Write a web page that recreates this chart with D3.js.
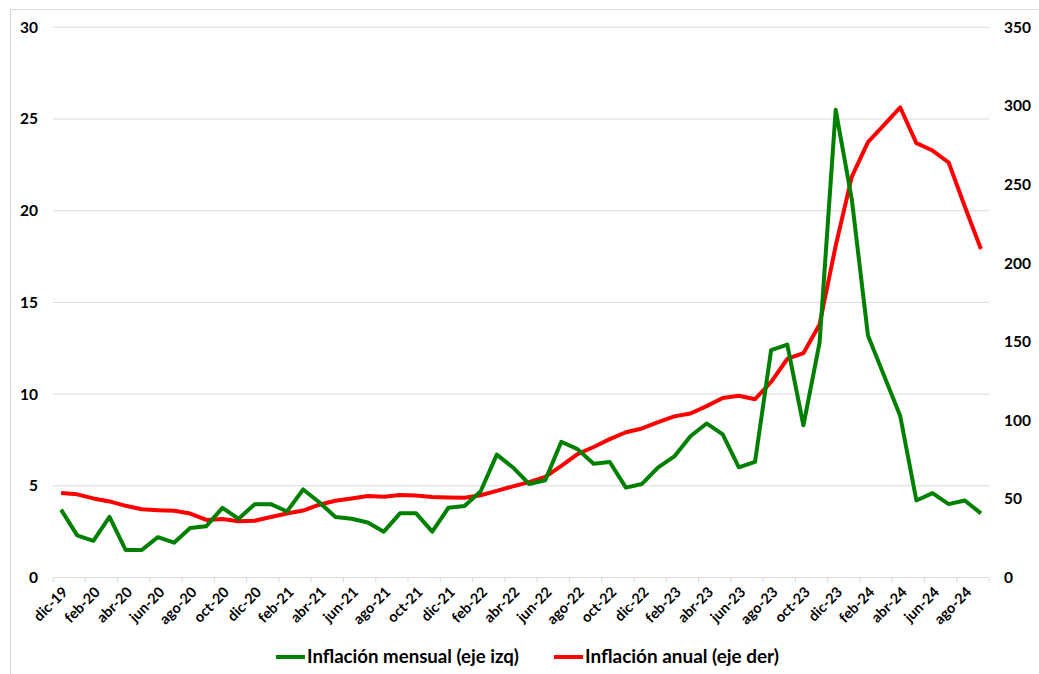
<!DOCTYPE html>
<html><head><meta charset="utf-8">
<script src="https://cdn.jsdelivr.net/npm/d3@7"></script>
<style>
body{margin:0;background:#fff;}
text{font-family:Lato,"Open Sans",sans-serif;font-weight:bold;fill:#000;}
</style></head>
<body><svg id="c" width="1039" height="674"></svg>
<script>
const months = ["dic-19","ene-20","feb-20","mar-20","abr-20","may-20","jun-20","jul-20","ago-20","sep-20","oct-20","nov-20",
"dic-20","ene-21","feb-21","mar-21","abr-21","may-21","jun-21","jul-21","ago-21","sep-21","oct-21","nov-21",
"dic-21","ene-22","feb-22","mar-22","abr-22","may-22","jun-22","jul-22","ago-22","sep-22","oct-22","nov-22",
"dic-22","ene-23","feb-23","mar-23","abr-23","may-23","jun-23","jul-23","ago-23","sep-23","oct-23","nov-23",
"dic-23","ene-24","feb-24","mar-24","abr-24","may-24","jun-24","jul-24","ago-24","sep-24"];
const mensual = [3.7,2.3,2.0,3.3,1.5,1.5,2.2,1.9,2.7,2.8,3.8,3.2,
4.0,4.0,3.6,4.8,4.1,3.3,3.2,3.0,2.5,3.5,3.5,2.5,
3.8,3.9,4.7,6.7,6.0,5.1,5.3,7.4,7.0,6.2,6.3,4.9,
5.1,6.0,6.6,7.7,8.4,7.8,6.0,6.3,12.4,12.7,8.3,12.8,
25.5,20.6,13.2,11.0,8.8,4.2,4.6,4.0,4.2,3.5];
const anual = [53.8,52.9,50.3,48.4,45.6,43.4,42.8,42.4,40.7,36.6,37.2,35.8,
36.1,38.5,40.7,42.6,46.3,48.8,50.2,51.8,51.4,52.5,52.1,51.2,
50.9,50.7,52.3,55.1,58.0,60.7,64.0,71.0,78.5,83.0,88.0,92.4,
94.8,98.8,102.5,104.3,109.0,114.2,115.6,113.4,124.4,139.0,142.7,161.0,
211.0,255.0,277.0,288.0,299.0,276.3,271.6,264.0,236.0,209.0];
const leftTicks = [0,5,10,15,20,25,30];
const rightTicks = [0,50,100,150,200,250,300,350];
const seriesNames = ["Inflación mensual (eje izq)","Inflación anual (eje der)"];

const svg = d3.select("#c");
const L = 53, R = 989, T = 27.3, B = 577.5;

svg.append("rect").attr("x",10.5).attr("y",9.5).attr("width",1040).attr("height",680)
  .attr("fill","none").attr("stroke","#d9d9d9");

const x = d3.scaleBand().domain(months).range([L,R]);
const yL = d3.scaleLinear().domain([0,30]).range([B,T]);
const yR = d3.scaleLinear().domain([0,350]).range([B,T]);

svg.append("g").selectAll("line").data(leftTicks.filter(d=>d>0)).join("line")
  .attr("x1",L).attr("x2",R).attr("y1",d=>yL(d)).attr("y2",d=>yL(d))
  .attr("stroke","#d9d9d9").attr("stroke-width",1);

svg.append("g").selectAll("text").data(leftTicks).join("text")
  .attr("x",38).attr("y",d=>yL(d)).attr("dy","0.35em").attr("text-anchor","end")
  .attr("font-size",15.5).text(d=>d);
svg.append("g").selectAll("text").data(rightTicks).join("text")
  .attr("x",1004).attr("y",d=>yR(d)).attr("dy","0.35em").attr("text-anchor","start")
  .attr("font-size",15.5).text(d=>d);

const gx = svg.append("g");
gx.append("line").attr("x1",L).attr("x2",R).attr("y1",B).attr("y2",B).attr("stroke","#d9d9d9");
const tickIdx = d3.range(0, months.length+1, 2);
gx.selectAll("line.t").data(tickIdx).join("line").attr("class","t")
  .attr("x1",i=>i<months.length?x(months[i]):R).attr("x2",i=>i<months.length?x(months[i]):R)
  .attr("y1",B).attr("y2",B+5).attr("stroke","#d9d9d9");
gx.selectAll("text").data(months.filter((d,i)=>i%2===0)).join("text")
  .attr("transform",d=>`translate(${x(d)+x.bandwidth()/2+4},${B+12}) rotate(-45)`)
  .attr("text-anchor","end").attr("dy","0.35em").attr("font-size",14.5).text(d=>d);

const cx = d => x(d)+x.bandwidth()/2;
const lineL = d3.line().x((d,i)=>cx(months[i])).y(d=>yL(d));
const lineR = d3.line().x((d,i)=>cx(months[i])).y(d=>yR(d));

svg.append("path").datum(anual).attr("d",lineR).attr("fill","none")
  .attr("stroke","#ff0000").attr("stroke-width",4).attr("stroke-linejoin","round");
svg.append("path").datum(mensual).attr("d",lineL).attr("fill","none")
  .attr("stroke","#008000").attr("stroke-width",4).attr("stroke-linejoin","round");

const leg = svg.append("g");
const items = [{n:seriesNames[0],c:"#008000",x:276,w:212},{n:seriesNames[1],c:"#ff0000",x:554,w:194}];
items.forEach(it=>{
  leg.append("line").attr("x1",it.x).attr("x2",it.x+29).attr("y1",657).attr("y2",657)
    .attr("stroke",it.c).attr("stroke-width",4);
  leg.append("text").attr("x",it.x+31).attr("y",657).attr("dy","0.35em")
    .attr("font-size",18.5).attr("textLength",it.w).attr("lengthAdjust","spacingAndGlyphs").text(it.n);
});
</script></body></html>
